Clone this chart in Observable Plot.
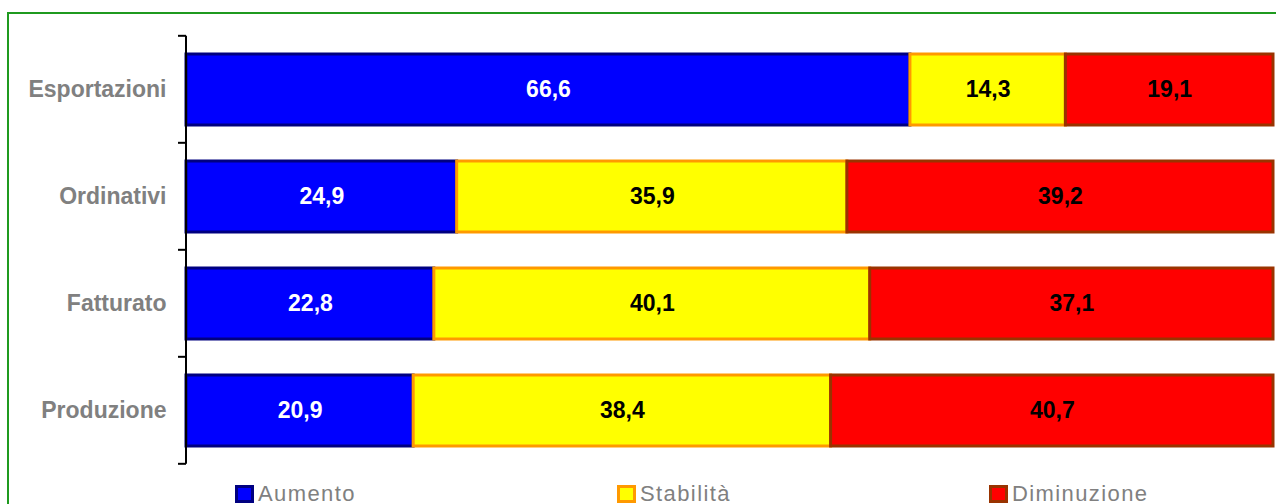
<!DOCTYPE html>
<html>
<head>
<meta charset="utf-8">
<script src="https://cdn.jsdelivr.net/npm/d3@7"></script>
<script src="https://cdn.jsdelivr.net/npm/@observablehq/plot@0.6"></script>
<style>
  html, body { margin: 0; padding: 0; background: #fff; overflow: hidden; width: 1276px; height: 504px; }
  body { position: relative; font-family: "Liberation Sans", Arial, sans-serif; }
  #frame { position: absolute; left: 7px; top: 12px; width: 1400px; height: 700px; border: 2px solid #1f9a1f; box-sizing: border-box; }
  #chart { position: absolute; left: 0; top: 0; }
  .lg { position: absolute; top: 483px; height: 24px; }
  .sw { position: absolute; top: 2px; left: 0; width: 19px; height: 18px; border: 3px solid; box-sizing: border-box; }
  .lt { position: absolute; left: 23px; top: 0; font-size: 22px; line-height: 22px; color: #808080; letter-spacing: 1.4px; white-space: nowrap; }
</style>
</head>
<body>
<div id="frame"></div>
<div id="chart"></div>
<div id="legend"></div>
<script>
// Data
const categories = ["Esportazioni", "Ordinativi", "Fatturato", "Produzione"];
const seriesNames = ["Aumento", "Stabilità", "Diminuzione"];
const aumento     = [66.6, 24.9, 22.8, 20.9];
const stabilita   = [14.3, 35.9, 40.1, 38.4];
const diminuzione = [19.1, 39.2, 37.1, 40.7];

// Styles
const fills   = ["#0000ff", "#ffff00", "#ff0000"];
const strokes = ["#000080", "#ff9900", "#993300"];
const labelColors = ["#ffffff", "#000000", "#000000"];

const seriesValues = [aumento, stabilita, diminuzione];
const rows = [];
categories.forEach((c, i) => {
  seriesNames.forEach((s, j) => {
    rows.push({cat: c, series: s, si: j, value: seriesValues[j][i]});
  });
});

const fmt = v => v.toFixed(1).replace(".", ",");
const padInner = 0.34;

// Axis line + ticks at band boundaries (Excel style)
function axisMark(index, scales, values, dimensions) {
  const y = scales.y, x = scales.x;
  const step = y(categories[1]) - y(categories[0]);
  const bounds = categories.map(c => y(c) - step * padInner / 2);
  bounds.push(y(categories[categories.length - 1]) + step - step * padInner / 2);
  const x0 = x(0);
  const g = d3.create("svg:g");
  g.append("line")
    .attr("x1", x0).attr("x2", x0)
    .attr("y1", bounds[0]).attr("y2", bounds[bounds.length - 1])
    .attr("stroke", "#000").attr("stroke-width", 2);
  g.selectAll("line.t").data(bounds).join("line")
    .attr("class", "t")
    .attr("x1", x0 - 8).attr("x2", x0)
    .attr("y1", d => d).attr("y2", d => d)
    .attr("stroke", "#000").attr("stroke-width", 2);
  return g.node();
}

const plot = Plot.plot({
  width: 1276,
  height: 470,
  marginLeft: 186,
  marginRight: 3,
  marginTop: 34,
  marginBottom: 5,
  style: {
    fontFamily: "'Liberation Sans', Arial, sans-serif",
    fontSize: "23px",
    fontWeight: "bold",
    color: "#808080",
    background: "transparent",
    overflow: "visible"
  },
  x: {domain: [0, 100], axis: null},
  y: {domain: categories, paddingInner: padInner, paddingOuter: padInner / 2,
      label: null, tickSize: 0, tickPadding: 20},
  color: {type: "identity"},
  marks: [
    Plot.barX(rows, Plot.stackX({
      x: "value", y: "cat", z: "series",
      fill: d => fills[d.si], stroke: d => strokes[d.si],
      strokeWidth: 3
    })),
    Plot.text(rows, Plot.stackX({
      x: "value", y: "cat", z: "series",
      text: d => fmt(d.value),
      fill: d => labelColors[d.si],
      fontSize: 23, fontWeight: "bold"
    })),
    axisMark
  ]
});
document.getElementById("chart").appendChild(plot);

// Legend
const legendX = [235, 617, 989];
const legend = document.getElementById("legend");
seriesNames.forEach((s, j) => {
  const item = document.createElement("div");
  item.className = "lg";
  item.style.left = legendX[j] + "px";
  const sw = document.createElement("div");
  sw.className = "sw";
  sw.style.background = fills[j];
  sw.style.borderColor = strokes[j];
  const t = document.createElement("div");
  t.className = "lt";
  t.textContent = s;
  item.appendChild(sw);
  item.appendChild(t);
  legend.appendChild(item);
});
</script>
</body>
</html>
